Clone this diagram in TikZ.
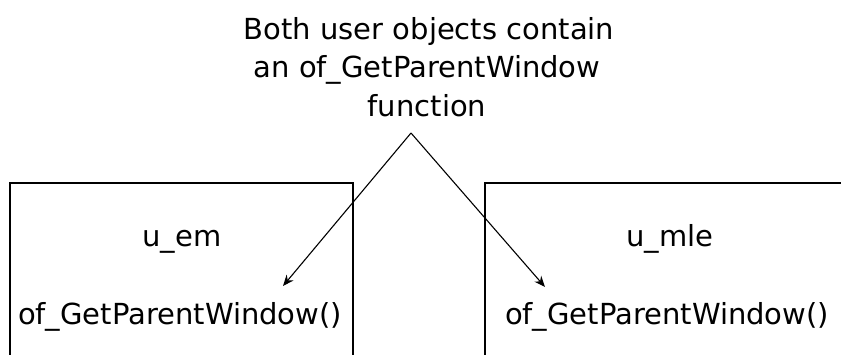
\documentclass[tikz,border=0pt]{standalone}
\usepackage{fontspec}
\setmainfont{DejaVu Sans}
\usetikzlibrary{arrows.meta}
\begin{document}
\begin{tikzpicture}[x=1pt,y=-1pt,
  lbl/.style={inner sep=0pt,anchor=base,font=\fontsize{29}{38.5}\selectfont},
  objbox/.style={draw=black,line width=1.6pt},
  pointer/.style={draw=black,line width=1.1pt,-{Stealth[length=11pt,width=9pt]}}]
\useasboundingbox (0,0) rectangle (841,355);
\clip (0,0) rectangle (841,355);
% boxes
\draw[objbox] (10,183) rectangle (353,420);
\draw[objbox] (485,183) rectangle (900,420);
% labels
\node[lbl] (t1) at (429,40) {Both user objects contain};
\node[lbl] (t2) at (427,78) {an of\_GetParentWindow};
\node[lbl] (t3) at (427,117) {function};
\node[lbl] (em) at (182,247) {u\_em};
\node[lbl] (mle) at (670,247) {u\_mle};
\node[lbl] (mem) at (180,325) {of\_GetParentWindow()};
\node[lbl] (mmle) at (667,325) {of\_GetParentWindow()};
% connectors
\coordinate (apex) at (411,133);
\coordinate (tipL) at (283,286);
\coordinate (tipR) at (545,287);
\draw[pointer] (apex) -- (tipL);
\draw[pointer] (apex) -- (tipR);
\end{tikzpicture}
\end{document}
